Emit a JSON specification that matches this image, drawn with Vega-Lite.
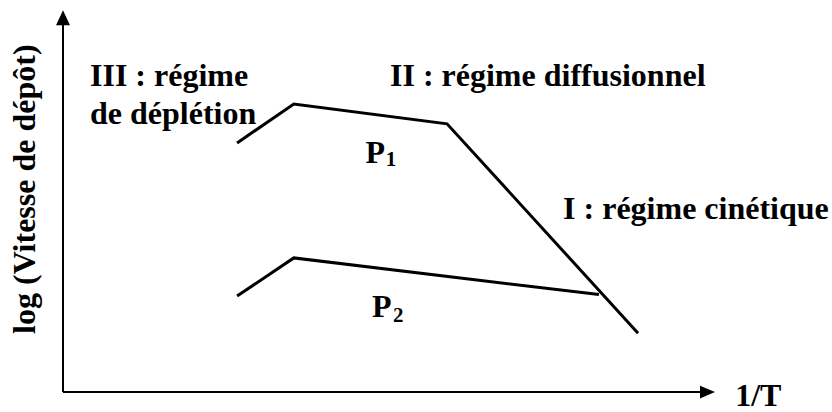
{
  "$schema": "https://vega.github.io/schema/vega-lite/v6.json",
  "width": 652,
  "height": 382,
  "autosize": {"type": "none"},
  "padding": {"left": 63, "top": 10, "right": 117, "bottom": 20},
  "background": "white",
  "config": {"view": {"stroke": null}},
  "datasets": {
    "curves": [
      {"serie": "P1", "i": 0, "x": 2.67, "y": 6.52},
      {"serie": "P1", "i": 1, "x": 3.54, "y": 7.54},
      {"serie": "P1", "i": 2, "x": 5.89, "y": 7.02},
      {"serie": "P1", "i": 3, "x": 8.82, "y": 1.54},
      {"serie": "P2", "i": 0, "x": 2.67, "y": 2.51},
      {"serie": "P2", "i": 1, "x": 3.54, "y": 3.51},
      {"serie": "P2", "i": 2, "x": 8.22, "y": 2.55}
    ],
    "axes": [
      {"axe": "y", "x": 0, "y": 0, "x2": 0, "y2": 9.7},
      {"axe": "x", "x": 0, "y": 0, "x2": 9.85, "y2": 0}
    ],
    "arrowsUp": [{"x": 0, "y": 9.8}],
    "arrowsRight": [{"x": 9.885, "y": 0}],
    "labels": [
      {"t": "III : régime", "x": 0.414, "y": 8.01},
      {"t": "de déplétion", "x": 0.414, "y": 7.02},
      {"t": "II : régime diffusionnel", "x": 5.015, "y": 8.01},
      {"t": "I : régime cinétique", "x": 7.67, "y": 4.53},
      {"t": "P", "x": 4.64, "y": 5.99},
      {"t": "P", "x": 4.74, "y": 1.96},
      {"t": "1/T", "x": 10.31, "y": -0.37}
    ],
    "subs": [
      {"t": "1", "x": 4.95, "y": 5.92},
      {"t": "2", "x": 5.06, "y": 1.83}
    ],
    "ytitle": [{"t": "log (Vitesse de dépôt)", "x": -0.43, "y": 5.31}]
  },
  "layer": [
    {
      "data": {"name": "axes"},
      "mark": {"type": "rule", "color": "black", "strokeWidth": 2},
      "encoding": {
        "x": {"field": "x", "type": "quantitative", "scale": {"domain": [0, 10], "nice": false, "zero": false}, "axis": null},
        "y": {"field": "y", "type": "quantitative", "scale": {"domain": [0, 10], "nice": false, "zero": false}, "axis": null},
        "x2": {"field": "x2"},
        "y2": {"field": "y2"}
      }
    },
    {
      "data": {"name": "arrowsUp"},
      "mark": {"type": "point", "shape": "M0,-1L-0.93,1L0.93,1Z", "size": 225, "filled": true, "color": "black", "opacity": 1},
      "encoding": {
        "x": {"field": "x", "type": "quantitative"},
        "y": {"field": "y", "type": "quantitative"}
      }
    },
    {
      "data": {"name": "arrowsRight"},
      "mark": {"type": "point", "shape": "M1,0L-1,-0.85L-1,0.85Z", "size": 225, "filled": true, "color": "black", "opacity": 1},
      "encoding": {
        "x": {"field": "x", "type": "quantitative"},
        "y": {"field": "y", "type": "quantitative"}
      }
    },
    {
      "data": {"name": "curves"},
      "mark": {"type": "line", "color": "black", "strokeWidth": 3, "strokeJoin": "miter"},
      "encoding": {
        "x": {"field": "x", "type": "quantitative"},
        "y": {"field": "y", "type": "quantitative"},
        "detail": {"field": "serie", "type": "nominal"},
        "order": {"field": "i", "type": "quantitative"}
      }
    },
    {
      "data": {"name": "labels"},
      "mark": {"type": "text", "font": "Liberation Serif", "fontWeight": "bold", "fontSize": 32, "align": "left", "baseline": "alphabetic", "color": "black"},
      "encoding": {
        "x": {"field": "x", "type": "quantitative"},
        "y": {"field": "y", "type": "quantitative"},
        "text": {"field": "t", "type": "nominal"}
      }
    },
    {
      "data": {"name": "subs"},
      "mark": {"type": "text", "font": "Liberation Serif", "fontWeight": "bold", "fontSize": 21, "align": "left", "baseline": "alphabetic", "color": "black"},
      "encoding": {
        "x": {"field": "x", "type": "quantitative"},
        "y": {"field": "y", "type": "quantitative"},
        "text": {"field": "t", "type": "nominal"}
      }
    },
    {
      "data": {"name": "ytitle"},
      "mark": {"type": "text", "font": "Liberation Serif", "fontWeight": "bold", "fontSize": 32, "align": "center", "baseline": "alphabetic", "angle": 270, "color": "black"},
      "encoding": {
        "x": {"field": "x", "type": "quantitative"},
        "y": {"field": "y", "type": "quantitative"},
        "text": {"field": "t", "type": "nominal"}
      }
    }
  ]
}
